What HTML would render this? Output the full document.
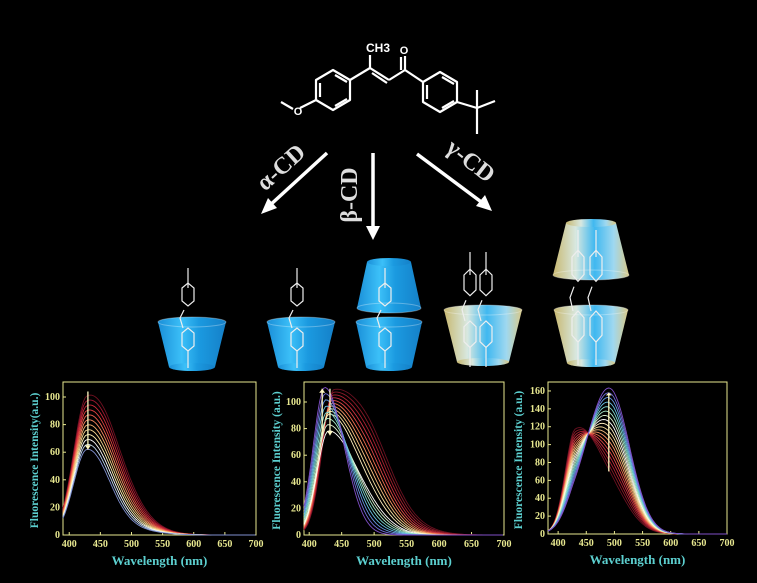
<!DOCTYPE html>
<html><head><meta charset="utf-8"><style>
html,body{margin:0;padding:0;background:#000;width:757px;height:583px;overflow:hidden}
svg{display:block}
.tk{font:bold 10px "Liberation Serif",serif;fill:#e8e890}
.al{font:bold 13px "Liberation Serif",serif;fill:#5ccfcf}
</style></head><body>
<svg id="s" width="757" height="583" viewBox="0 0 757 583" xmlns="http://www.w3.org/2000/svg">
<defs>
<linearGradient id="bl" x1="0" x2="1" y1="0" y2="0">
<stop offset="0" stop-color="#1a8fd8"/><stop offset="0.35" stop-color="#3cc0f8"/><stop offset="0.6" stop-color="#1b9ae0"/><stop offset="1" stop-color="#1580c8"/></linearGradient>
<linearGradient id="yl" x1="0" x2="1" y1="0" y2="0">
<stop offset="0" stop-color="#c8b870"/><stop offset="0.3" stop-color="#d8e8e0"/><stop offset="0.55" stop-color="#40b8f0"/><stop offset="0.8" stop-color="#9fd8f0"/><stop offset="1" stop-color="#d8c888"/></linearGradient>
</defs>
<g stroke="#fff" stroke-width="2.2" fill="none" stroke-linejoin="round">
<polygon points="316,80 333,70 350,80 350,100 333,110 316,100"/>
<line x1="320" y1="83" x2="320" y2="97"/><line x1="335" y1="75" x2="347" y2="82"/><line x1="335" y1="106" x2="347" y2="99"/>
<line x1="316" y1="100" x2="300" y2="108"/><line x1="293" y1="109" x2="281" y2="102"/>
<line x1="350" y1="80" x2="370" y2="68"/><line x1="370" y1="68" x2="370" y2="55"/>
<line x1="370" y1="68" x2="389" y2="80"/><line x1="372" y1="73" x2="387" y2="83"/>
<line x1="389" y1="80" x2="405" y2="70"/><line x1="405" y1="70" x2="405" y2="56"/><line x1="401" y1="70" x2="401" y2="57"/>
<line x1="405" y1="70" x2="423" y2="82"/>
<polygon points="423,82 440,72 457,82 457,102 440,112 423,102"/>
<line x1="427" y1="85" x2="427" y2="99"/><line x1="442" y1="77" x2="454" y2="84"/><line x1="442" y1="108" x2="454" y2="101"/>
<line x1="457" y1="102" x2="477" y2="108"/><line x1="477" y1="108" x2="495" y2="101"/><line x1="477" y1="108" x2="477" y2="134"/><line x1="477" y1="108" x2="477" y2="90"/>
</g>
<text x="298" y="115" font-family="Liberation Sans,sans-serif" font-size="11" font-weight="bold" fill="#fff" text-anchor="middle">O</text>
<text x="366" y="52" font-family="Liberation Sans,sans-serif" font-size="12" font-weight="bold" fill="#fff">CH3</text>
<text x="404" y="54" font-family="Liberation Sans,sans-serif" font-size="11" font-weight="bold" fill="#fff" text-anchor="middle">O</text>
<g stroke="#fff" stroke-width="3.5" fill="#fff">
<line x1="327" y1="153" x2="268" y2="207"/><polygon points="261,214 268,198 277,208" stroke="none"/>
<line x1="373" y1="153" x2="373" y2="230"/><polygon points="373,240 366,226 380,226" stroke="none"/>
<line x1="417" y1="154" x2="484" y2="204"/><polygon points="492,211 476,206 485,195" stroke="none"/>
</g>
<g font-family="Liberation Serif,serif" font-weight="bold" font-size="24" fill="#ddd">
<text transform="translate(286,173) rotate(-42)" text-anchor="middle">α-CD</text>
<text transform="translate(357,195) rotate(-90)" text-anchor="middle">β-CD</text>
<text transform="translate(466,167) rotate(38)" text-anchor="middle">γ-CD</text>
</g>
<g id="cones"></g>
<g id="charts"></g>
</svg>
<script>
var NS="http://www.w3.org/2000/svg",S=document.getElementById('s');
function el(t,a,p){var e=document.createElementNS(NS,t);for(var k in a)e.setAttribute(k,a[k]);(p||S).appendChild(e);return e;}
var C=document.getElementById('cones');
function cone(cx,ty,by,tw,bw,fill){
 el('polygon',{points:(cx-tw/2)+','+ty+' '+(cx+tw/2)+','+ty+' '+(cx+bw/2)+','+by+' '+(cx-bw/2)+','+by,fill:fill},C);
 el('ellipse',{cx:cx,cy:ty,rx:tw/2,ry:5,fill:fill,stroke:'rgba(255,255,255,0.3)'},C);
 el('ellipse',{cx:cx,cy:by,rx:bw/2,ry:4,fill:fill},C);
}
function mol(x,y,h){var g=el('g',{stroke:'#eee','stroke-width':1.2,fill:'none'},C);
 el('polyline',{points:(x+8)+','+y+' '+(x+8)+','+(y+h*0.2)},g);
 el('polygon',{points:(x+2)+','+(y+h*0.2)+' '+(x+8)+','+(y+h*0.15)+' '+(x+14)+','+(y+h*0.2)+' '+(x+14)+','+(y+h*0.33)+' '+(x+8)+','+(y+h*0.38)+' '+(x+2)+','+(y+h*0.33)},g);
 el('polyline',{points:(x+4)+','+(y+h*0.42)+' '+(x)+','+(y+h*0.5)+' '+(x+3)+','+(y+h*0.6)},g);
 el('polygon',{points:(x+2)+','+(y+h*0.65)+' '+(x+8)+','+(y+h*0.6)+' '+(x+14)+','+(y+h*0.65)+' '+(x+14)+','+(y+h*0.78)+' '+(x+8)+','+(y+h*0.83)+' '+(x+2)+','+(y+h*0.78)},g);
 el('polyline',{points:(x+8)+','+(y+h*0.83)+' '+(x+8)+','+(y+h)},g);
}
cone(192,322,367,68,46,'url(#bl)');
cone(301,322,367,68,46,'url(#bl)');
cone(389,322,367,66,46,'url(#bl)');
cone(389,308,262,64,44,'url(#bl)');
cone(483,310,362,78,52,'url(#yl)');
cone(591,310,363,74,48,'url(#yl)');
cone(591,275,223,76,50,'url(#yl)');
mol(180,268,100);mol(289,268,100);mol(377,268,100);
mol(462,252,115);mol(478,252,115);mol(570,230,135);mol(588,230,135);
var G=document.getElementById('charts');
var pal=['#6a1020','#8a1a28','#a82030','#c83040','#e04848','#f07050','#f89868','#f8c080','#f8e0a0','#fff0c0','#ffffff','#d8f0d0','#a8e8c8','#80d8d0','#68c0e0','#6898e0','#7070d8','#8050c8'];
function chart(o){
 el('rect',{x:o.x0,y:o.y0,width:o.x1-o.x0,height:o.y1-o.y0,fill:'none',stroke:'#e8e890','stroke-width':1},G);
 var X=function(l){return o.x0+(l-o.lmin)*(o.x1-o.x0)/(700-o.lmin)},Y=function(v){return o.y1-v*o.k};
 [400,450,500,550,600,650,700].forEach(function(l){var x=X(l);el('line',{x1:x,y1:o.y1,x2:x,y2:o.y1-3,stroke:'#e8e890'},G);var t=el('text',{x:x,y:o.y1+12,'text-anchor':'middle','class':'tk'},G);t.textContent=l;});
 o.yt.forEach(function(v){var y=Y(v);el('line',{x1:o.x0,y1:y,x2:o.x0+3,y2:y,stroke:'#e8e890'},G);var t=el('text',{x:o.x0-3,y:y+3,'text-anchor':'end','class':'tk'},G);t.textContent=v;});
 var t=el('text',{x:(o.x0+o.x1)/2,y:o.y1+30,'text-anchor':'middle','class':'al'},G);t.textContent='Wavelength (nm)';
 t=el('text',{transform:'translate('+(o.x0-o.yl)+','+((o.y0+o.y1)/2+2)+') rotate(-90)','text-anchor':'middle','class':'al'},G);t.textContent=o.ylab;t.setAttribute('style','font-size:11.5px');
 var n=o.n;for(var i=0;i<n;i++){var f=i/(n-1);var d='';
  for(var l=o.lmin;l<=700;l+=3){var v=o.f(l,f);d+=(l==o.lmin?'M':'L')+X(l).toFixed(1)+','+Y(v).toFixed(1);}
  el('path',{d:d,fill:'none',stroke:o.pal(f),'stroke-width':0.9},G);}
 o.arrows.forEach(function(a){el('line',{x1:X(a[0]),y1:Y(a[1]),x2:X(a[0]),y2:Y(a[2]),stroke:'#fff8c0','stroke-width':1.3},G);
  el('polygon',{points:(X(a[0])-3)+','+Y(a[2]+3*(a[1]>a[2]?1:-1))+' '+(X(a[0])+3)+','+Y(a[2]+3*(a[1]>a[2]?1:-1))+' '+X(a[0])+','+Y(a[2]),fill:'#fff8c0'},G);});
}
function pk(l,p,A,wl,wr){var w=l<p?wl:wr;return A*Math.exp(-Math.pow((l-p)/w,2));}
function palF(arr){return function(f){return arr[Math.min(arr.length-1,Math.round(f*(arr.length-1)))];}}
chart({x0:63,x1:256,y0:382,y1:535,lmin:390,k:1.38,n:12,yt:[0,20,40,60,80,100],yl:25,ylab:'Fluorescence Intensity(a.u.)',
 f:function(l,f){var A=96-36*f;return pk(l,428,A,30,48+16*(1-f))+pk(l,470,8*(1-f)+6,40,70);},
 pal:palF(['#701020','#a01830','#c82838','#e04040','#f06050','#f88860','#f8b070','#f8d890','#fff0b0','#ffffff','#c0d8f0','#8090d0']),arrows:[[430,104,62]]});
chart({x0:304,x1:504,y0:382,y1:535,lmin:392,k:1.33,n:18,yt:[0,20,40,60,80,100],yl:24,ylab:'Fluorescence Intensity (a.u.)',
 f:function(l,f){var A=108-33*f; if(f>0.55)A=75+(f-0.55)*80;var p=438-14*f;return pk(l,p,A,25,(1-f)*45+42)+(1-f)*pk(l,500,15,40,45);},
 pal:palF(pal),arrows:[[432,110,75],[420,75,110]]});
chart({x0:548,x1:727,y0:382,y1:534,lmin:382,k:0.894,n:18,yt:[0,20,40,60,80,100,120,140,160],yl:26,ylab:'Fluorescence Intensity (a.u.)',
 f:function(l,f){return pk(l,430,88*(1-f)+18,25,55)+pk(l,492,40+118*f,55,50);},
 pal:palF(pal),arrows:[[490,70,158]]});
</script>
</body></html>
